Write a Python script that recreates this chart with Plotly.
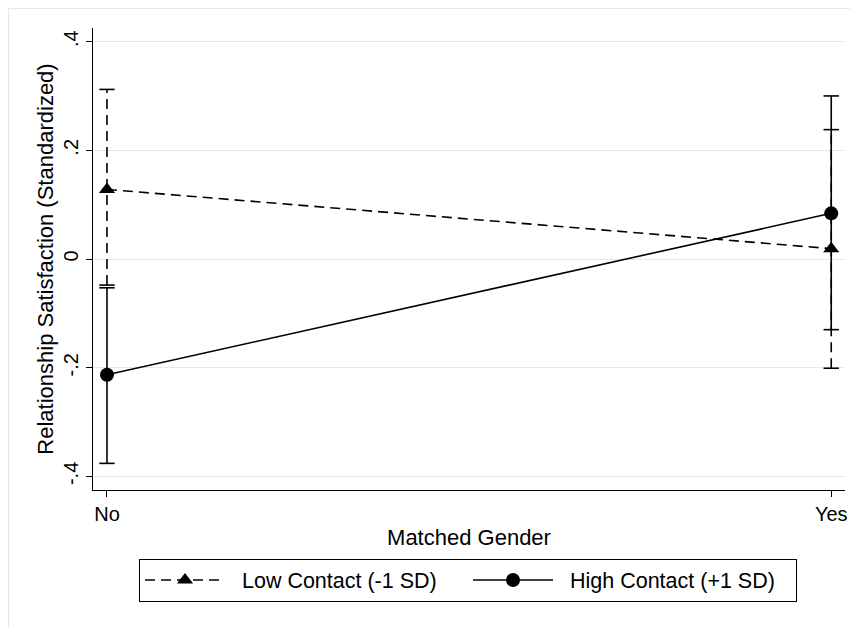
import plotly.graph_objects as go

categories = ["No", "Yes"]
x_pos = [0, 1]
low_mean = [0.128, 0.019]
low_lo = [-0.048, -0.201]
low_hi = [0.312, 0.238]
high_mean = [-0.213, 0.084]
high_lo = [-0.376, -0.130]
high_hi = [-0.053, 0.300]
y_tickvals = [-0.4, -0.2, 0, 0.2, 0.4]
y_ticktext = ["-.4", "-.2", "0", ".2", ".4"]
series_names = ["Low Contact (-1 SD)", "High Contact (+1 SD)"]

FONT = "Liberation Sans, Arial, Helvetica, sans-serif"
DASH = "10px,6px"
PAD = "\u00a0\u00a0"
fig = go.Figure()

def add_ci(xs, los, his, dash):
    for xi, lo, hi in zip(xs, los, his):
        fig.add_trace(go.Scatter(x=[xi, xi], y=[lo, hi], mode="lines",
                                 line=dict(color="black", width=1.6, dash=dash),
                                 showlegend=False, hoverinfo="skip"))
        fig.add_trace(go.Scatter(x=[xi, xi], y=[lo, hi], mode="markers",
                                 marker=dict(symbol="line-ew", size=11,
                                             line=dict(color="black", width=1.6)),
                                 showlegend=False, hoverinfo="skip"))

add_ci(x_pos, low_lo, low_hi, DASH)
add_ci(x_pos, high_lo, high_hi, "solid")

fig.add_trace(go.Scatter(x=x_pos, y=low_mean, mode="lines+markers",
                         name=PAD + series_names[0],
                         line=dict(color="black", width=1.6, dash=DASH),
                         marker=dict(symbol="triangle-up", size=14, color="black")))
fig.add_trace(go.Scatter(x=x_pos, y=high_mean, mode="lines+markers",
                         name=PAD + series_names[1],
                         line=dict(color="black", width=1.6),
                         marker=dict(symbol="circle", size=14, color="black")))

# page body has an 8px default margin, so the figure is shrunk by 8px and margins offset
fig.update_layout(
    width=850, height=620,
    margin=dict(l=85, r=13, t=20, b=138),
    paper_bgcolor="white", plot_bgcolor="white",
    font=dict(family=FONT, size=18, color="black"),
    legend=dict(orientation="h", x=0.4987, y=-0.195, xanchor="center", yanchor="middle",
                bordercolor="black", borderwidth=1, font=dict(size=21.5),
                itemwidth=80, entrywidthmode="pixels", entrywidth=233),
    shapes=[dict(type="rect", xref="paper", yref="paper",
                 x0=-0.1124, x1=1.1, y0=-0.4, y1=1.042,
                 line=dict(color="#e6e6e6", width=1), layer="below")],
)
fig.update_xaxes(range=[-0.0193, 1.019], tickvals=x_pos, ticktext=categories,
                 automargin=False,
                 showgrid=False, zeroline=False, showline=True, linecolor="black",
                 linewidth=1.2, ticks="outside", ticklen=6, tickcolor="black",
                 title=dict(text="Matched Gender", standoff=5),
                 tickfont=dict(size=20))
fig.update_yaxes(range=[-0.425, 0.425], tickvals=y_tickvals, ticktext=y_ticktext,
                 automargin=False,
                 tickangle=-90, showgrid=True, gridcolor="#e8e8e8", gridwidth=1.2,
                 zeroline=False, showline=True, linecolor="black", linewidth=1.2,
                 ticks="outside", ticklen=6, tickcolor="black",
                 title=dict(text="Relationship Satisfaction (Standardized)", standoff=0),
                 tickfont=dict(size=20))

fig.write_html("out.html")
